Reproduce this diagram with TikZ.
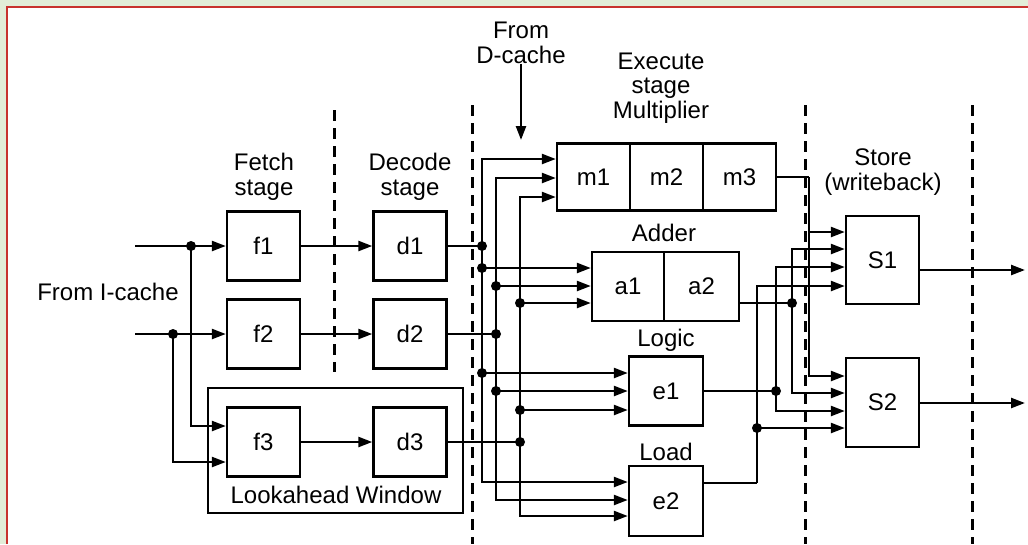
\documentclass[tikz,border=0pt]{standalone}
\usepackage{fontspec}
\setmainfont{Liberation Sans}
\usetikzlibrary{arrows.meta}
\definecolor{bgg}{HTML}{E2EDD8}
\definecolor{frame}{HTML}{C8322E}
\begin{document}
\begin{tikzpicture}[x=1pt,y=-1pt,
  box/.style={draw, line width=2.4pt, inner sep=0pt, minimum width=73pt, minimum height=69pt, font=\fontsize{24}{26}\selectfont},
  wire/.style={line width=2.4pt},
  arr/.style={wire, -{Triangle[length=14pt,width=10pt]}},
  lbl/.style={font=\fontsize{24}{24.5}\selectfont, align=center, inner sep=0pt},
  sepline/.style={line width=3pt, dash pattern=on 11pt off 7pt},
  jdot/.style={circle, fill, inner sep=0pt, minimum size=10pt}
]
\useasboundingbox (0,0) rectangle (1028,544);
\fill[bgg] (0,0) rectangle (1028,544);
\fill[white] (7,7) rectangle (1028,544);
\draw[frame, line width=2pt] (7,544) -- (7,7) -- (1028,7);

% stage separators
\draw[sepline] (334,110) -- (334,372);
\draw[sepline] (472,105) -- (472,544);
\draw[sepline] (805,105) -- (805,544);
\draw[sepline] (972,105) -- (972,544);

% boxes
\node[draw, line width=2.4pt, minimum width=255pt, minimum height=125pt, inner sep=0pt] (lw) at (335.5,450.5) {};
\node[box] (f1) at (263.5,246) {f1};
\node[box] (f2) at (263.5,334) {f2};
\node[box] (f3) at (263.5,442) {f3};
\node[box] (d1) at (410,246) {d1};
\node[box] (d2) at (410,334) {d2};
\node[box] (d3) at (410,442) {d3};
\node[box, minimum height=67pt] (m1) at (593.5,177) {m1};
\node[box, minimum height=67pt] (m2) at (666.5,177) {m2};
\node[box, minimum height=67pt] (m3) at (739.5,177) {m3};
\node[box, minimum width=72pt] (a1) at (628,286.5) {a1};
\node[box, minimum width=75pt] (a2) at (701.5,286.5) {a2};
\node[box, minimum width=74pt] (e1) at (666,391) {e1};
\node[box, minimum width=74pt, minimum height=70pt] (e2) at (666,501) {e2};
\node[box, minimum height=88pt] (s1) at (882.5,260) {S1};
\node[box, minimum height=89pt] (s2) at (882.5,402.5) {S2};

% labels
\node[lbl] (lwl) at (336,495) {Lookahead Window};
\node[lbl] (icache) at (108,292) {From I-cache};
\node[lbl] (fetch) at (264,177) {Fetch\\stage};
\node[lbl] (decode) at (410,177) {Decode\\stage};
\node[lbl] (dcache) at (521,43) {From\\D-cache};
\node[lbl] (exec) at (661,88) {Execute\\stage\\Multiplier};
\node[lbl] (adder) at (664,233) {Adder};
\node[lbl] (logic) at (666,340) {Logic};
\node[lbl] (load) at (666,452) {Load};
\node[lbl] (store) at (883,172) {Store\\(writeback)};

% fetch inputs
\coordinate (in1) at (135,246);
\coordinate (in2) at (135,334);
\coordinate (j1) at (191,246);
\coordinate (j2) at (173,334);
\coordinate (j1b) at (191,426);
\coordinate (j2b) at (173,462);
\draw[arr] (in1) -- (f1.west);
\draw[arr] (in2) -- (f2.west);
\draw[arr] (j1) -- (j1b) -- (f3.west |- j1b);
\draw[arr] (j2) -- (j2b) -- (f3.west |- j2b);
\draw[arr] (f1) -- (d1);
\draw[arr] (f2) -- (d2);
\draw[arr] (f3) -- (d3);

% D-cache
\coordinate (dct) at (521,140);
\draw[arr] (dcache.south) -- (dct);

% issue buses
\coordinate (c1t) at (482,159);
\coordinate (c1d) at (482,246);
\coordinate (c1a) at (482,268);
\coordinate (c1e) at (482,373);
\coordinate (c1b) at (482,482);
\coordinate (c2t) at (496,178);
\coordinate (c2a) at (496,286);
\coordinate (c2d) at (496,334);
\coordinate (c2e) at (496,391);
\coordinate (c2b) at (496,500);
\coordinate (c3t) at (520,197);
\coordinate (c3a) at (520,303);
\coordinate (c3e) at (520,410);
\coordinate (c3d) at (520,442);
\coordinate (c3b) at (520,516);

\draw[wire] (d1.east) -- (c1d);
\draw[wire] (d2.east) -- (c2d);
\draw[wire] (d3.east) -- (c3d);
\foreach \i in {1,2,3}{
  \draw[arr] (c\i d) -- (c\i t) -- (m1.west |- c\i t);
  \draw[arr] (c\i d) -- (c\i b) -- (e2.west |- c\i b);
  \draw[arr] (c\i a) -- (a1.west |- c\i a);
  \draw[arr] (c\i e) -- (e1.west |- c\i e);
}

% writeback buses
\coordinate (o3) at (809,177);
\coordinate (o3a) at (809,232);
\coordinate (o3b) at (809,376);
\draw[wire] (m3.east) -- (o3);
\draw[arr] (o3) -- (o3b) -- (s2.west |- o3b);
\draw[arr] (o3a) -- (s1.west |- o3a);

\coordinate (k2) at (792,303);
\coordinate (k2t) at (792,249);
\coordinate (k2b) at (792,393);
\draw[wire] (a2.east |- k2) -- (k2);
\draw[arr] (k2) -- (k2t) -- (s1.west |- k2t);
\draw[arr] (k2) -- (k2b) -- (s2.west |- k2b);

\coordinate (k1) at (776,391);
\coordinate (k1t) at (776,267);
\coordinate (k1b) at (776,411);
\draw[wire] (e1.east) -- (k1);
\draw[arr] (k1) -- (k1t) -- (s1.west |- k1t);
\draw[arr] (k1) -- (k1b) -- (s2.west |- k1b);

\coordinate (k0) at (757,483);
\coordinate (k0t) at (757,286);
\coordinate (k0d) at (757,428);
\draw[wire] (e2.east |- k0) -- (k0);
\draw[arr] (k0) -- (k0t) -- (s1.west |- k0t);
\draw[arr] (k0d) -- (s2.west |- k0d);

% store outputs
\coordinate (s1o) at (1025,270);
\coordinate (s2o) at (1025,403);
\draw[arr] (s1.east |- s1o) -- (s1o);
\draw[arr] (s2.east |- s2o) -- (s2o);

% junction dots
\foreach \c in {j1,j2,c1d,c1a,c1e,c2a,c2d,c2e,c3a,c3e,c3d,k2,k1,k0d}
  \node[jdot] at (\c) {};
\end{tikzpicture}
\end{document}
